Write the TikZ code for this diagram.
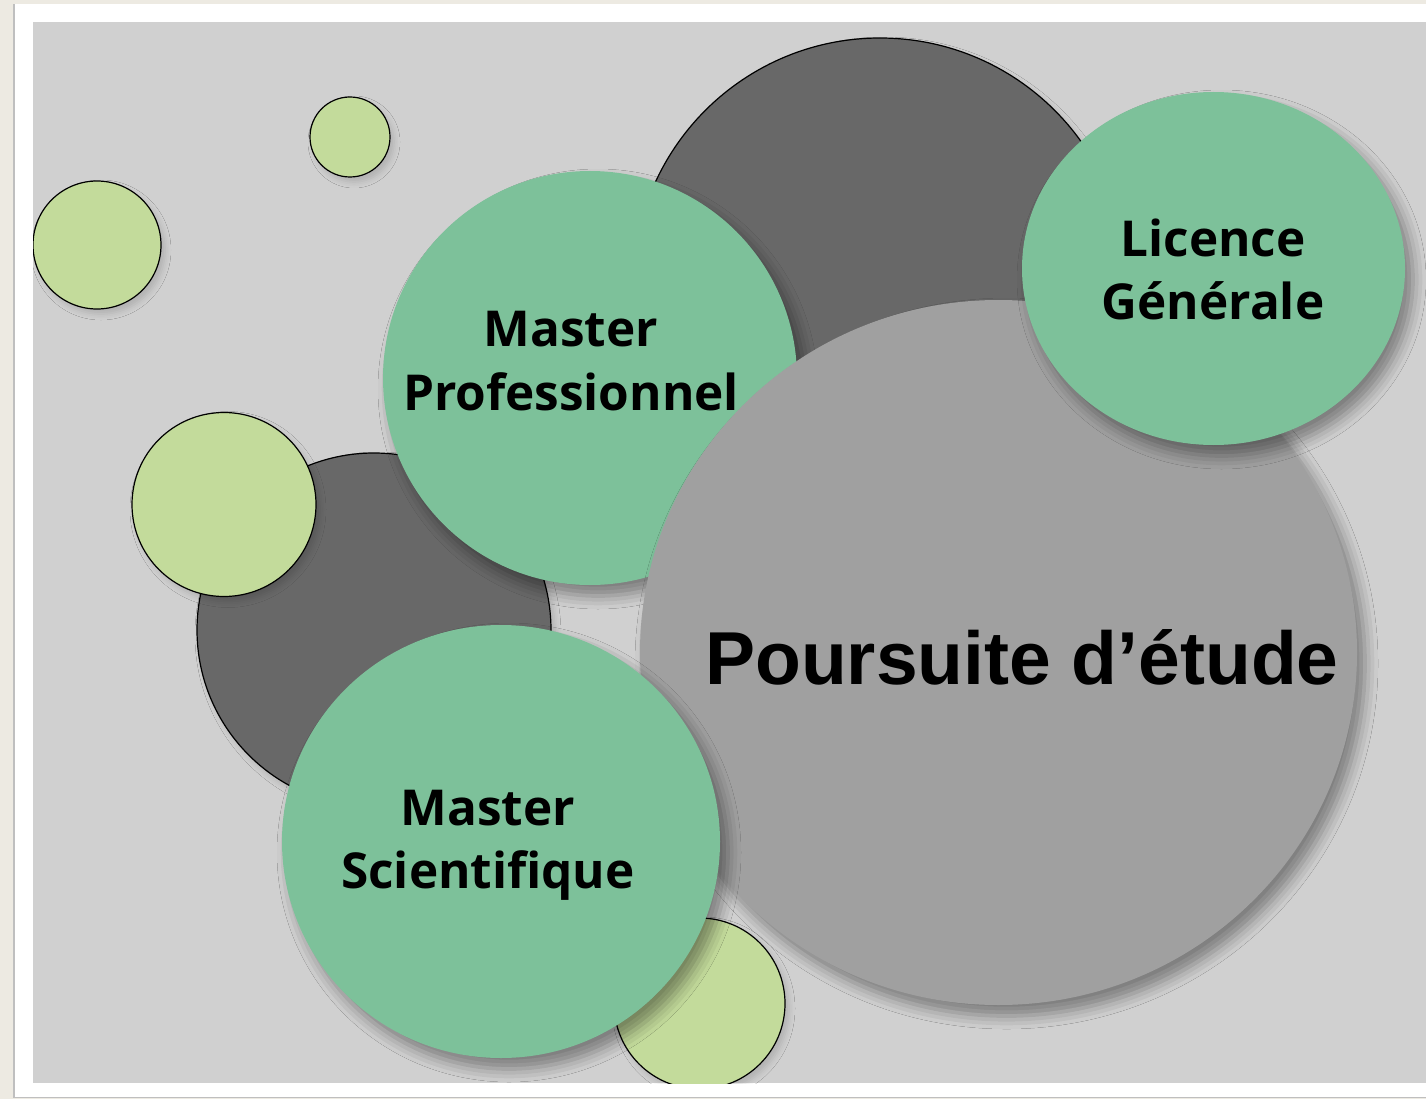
\documentclass[tikz,border=0pt]{standalone}
\usepackage{fontspec}
\setmainfont{Liberation Sans}
\newfontfamily\greenfont{Open Sans}
\usetikzlibrary{shadows.blur}
\definecolor{panelgray}{HTML}{D0D0D0}
\definecolor{darkgray2}{HTML}{686868}
\definecolor{midgray}{HTML}{A0A0A0}
\definecolor{mygreen}{HTML}{7DC19A}
\definecolor{lightgreen}{HTML}{C3DB9B}
\definecolor{beige}{HTML}{EDEAE2}
\tikzset{
  outlined/.style={draw=black, line width=1.2pt, blur shadow={shadow xshift=4pt, shadow yshift=-5pt, shadow blur radius=6pt, shadow opacity=15}},
  bubble/.style={blur shadow={shadow xshift=8pt, shadow yshift=-11pt, shadow blur radius=13pt, shadow opacity=40}},
  gtext/.style={anchor=base, font=\greenfont\bfseries\fontsize{49.5}{60}\selectfont, text=black, inner sep=0pt},
  ptext/.style={anchor=base, font=\bfseries\fontsize{75}{85}\selectfont, text=black, inner sep=0pt}
}
\begin{document}
\begin{tikzpicture}[x=1pt, y=-1pt]
\useasboundingbox (0,0) rectangle (1426,1099);
% frame
\fill[beige] (0,0) rectangle (1426,1099);
\fill[black!25] (12.5,4) rectangle (1426,1097.5);
\fill[white] (14.5,4.5) rectangle (1426,1096.5);
\fill[panelgray] (33,22) rectangle (1426,1083);
\begin{scope}
\clip (33,22) rectangle (1426,1083);
% dark gray circles
\path[fill=darkgray2, outlined] (880,285) circle [radius=247];
\path[fill=darkgray2, outlined] (374,630) circle [radius=177];
% light green circles
\path[fill=lightgreen, outlined] (350,137) circle [radius=40];
\path[fill=lightgreen, outlined] (97,245) circle [radius=64];
\path[fill=lightgreen, outlined] (224,504.5) circle [radius=92];
\path[fill=lightgreen, outlined] (699.5,1003.5) circle [radius=85.5];
% main bubbles
\path[fill=mygreen, bubble] (590,378) circle [radius=207];
\path[fill=midgray, bubble] (998.5,652.5) ellipse [x radius=358.5, y radius=352.5];
\path[fill=mygreen, bubble] (501,841.5) ellipse [x radius=219, y radius=216.5];
\path[fill=mygreen, bubble] (1213.5,268.5) ellipse [x radius=191.5, y radius=176.5];
\end{scope}
% labels
\node[gtext] (mp1) at (571,346) {Master};
\node[gtext] (mp2) at (571,410) {Professionnel};
\node[gtext] (lg1) at (1213,257) {Licence};
\node[gtext] (lg2) at (1213,319) {Générale};
\node[gtext] (ms1) at (488,825) {Master};
\node[gtext] (ms2) at (488,888) {Scientifique};
\node[ptext] (pe) at (1022,684) {Poursuite d’étude};
\end{tikzpicture}
\end{document}
